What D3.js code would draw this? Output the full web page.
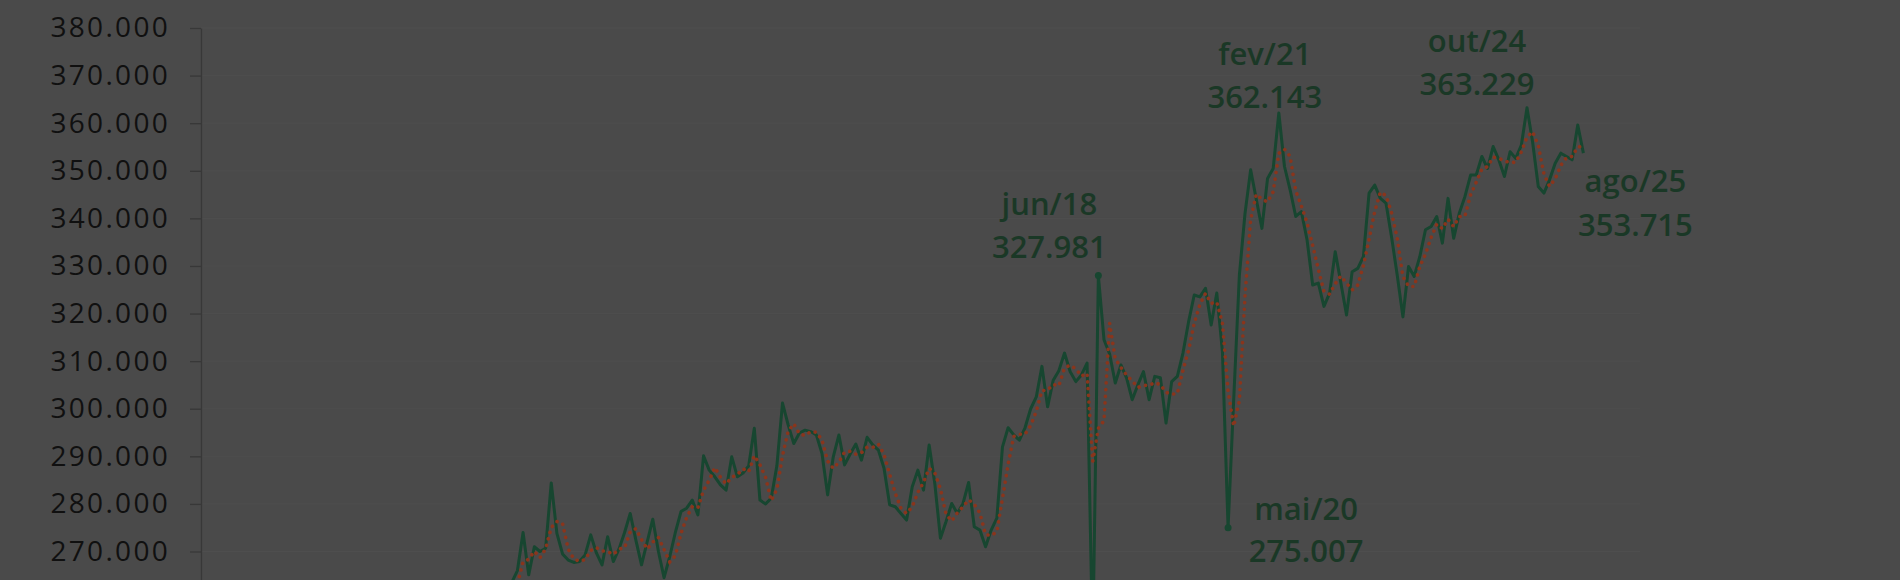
<!DOCTYPE html>
<html><head>
<meta charset="utf-8">
<title>serie mensal</title>
<script src="https://cdn.jsdelivr.net/npm/d3@7/dist/d3.min.js"></script>
<style>
  html, body { margin: 0; padding: 0; background: #4a4a4a; overflow: hidden; }
  svg { display: block; font-family: "Open Sans", sans-serif; }

  .y-axis path, .y-axis line { stroke: #383838; stroke-width: 1.3; }
  .y-axis text { fill: #101010; font-size: 28px; letter-spacing: 2.3px; font-family: "Open Sans", sans-serif; }

  .grid line { stroke: #4e4e4e; stroke-width: 1; }

  .serie { fill: none; stroke: #174630; stroke-width: 3; stroke-linejoin: round; }
  .media { fill: none; stroke: #8a351c; stroke-width: 3.6; stroke-dasharray: 0.1 6.6; stroke-linecap: round; }

  .rotulo { fill: #1a3826; font-size: 31px; font-weight: 600; text-anchor: middle; }
  .marca { fill: #174630; }
</style>
</head>
<body>
<svg id="chart" width="1900" height="580"></svg>

<script type="text/javascript">

// months (pt-BR) and first year of the series
var monthNames = ["jan","fev","mar","abr","mai","jun","jul","ago","set","out","nov","dez"]
var startYear = 2005

// monthly values, in thousands (2005-2009 sit below the visible area)
var serie = [
  228, 226, 231, 229, 233, 230, 232, 235, 231, 234, 236, 233,                          // 2005
  235, 232, 238, 236, 240, 237, 239, 242, 238, 241, 243, 240,                          // 2006
  242, 239, 245, 243, 247, 244, 246, 249, 245, 248, 250, 247,                          // 2007
  249, 252, 250, 254, 251, 253, 256, 252, 249, 244, 238, 236,                          // 2008
  240, 242, 245, 247, 250, 252, 254, 257, 260, 263.5, 266, 274.0,                      // 2009
  265.1, 271.0, 270.0, 270.7, 284.4, 273.8, 269.5, 268.2, 267.7, 267.9, 269.3, 273.5,  // 2010
  269.7, 267.2, 273.1, 267.9, 270.5, 274.0, 278.0, 272.4, 267.2, 272.0, 276.8, 270.0,  // 2011
  264.5, 268.9, 274.0, 278.4, 279.1, 280.8, 277.7, 290.1, 287.1, 285.7, 284.0, 282.9,  // 2012
  289.9, 285.7, 286.5, 288.0, 295.9, 280.8, 280.0, 281.2, 288.0, 301.2, 296.6, 292.7,  // 2013
  294.9, 295.5, 295.2, 294.5, 290.6, 281.9, 289.9, 294.5, 288.2, 290.5, 292.6, 289.2,  // 2014
  294.0, 292.4, 291.3, 287.5, 279.8, 279.4, 278.0, 276.6, 283.6, 287.1, 282.9, 292.4,  // 2015
  284.3, 272.8, 276.3, 280.1, 278.0, 280.1, 284.5, 275.2, 274.5, 271.0, 274.5, 277.0,  // 2016
  292.0, 296.0, 294.5, 293.4, 296.0, 300.0, 302.5, 308.9, 300.4, 306.0, 308.0, 311.7,  // 2017
  307.8, 305.7, 307.1, 309.6, 250.0, 327.981, 314.5, 311.5, 305.4, 309.2, 306.5, 301.9, // 2018
  305.0, 307.8, 301.9, 306.8, 306.5, 297.0, 305.7, 306.8, 311.7, 318.3, 323.9, 323.5,  // 2019
  325.3, 317.6, 324.3, 312.0, 275.007, 302.0, 328.0, 341.0, 350.2, 344.0, 337.9, 348.4, // 2020
  350.5, 362.143, 350.9, 346.0, 340.4, 341.4, 335.5, 326.0, 326.4, 321.5, 324.3, 333.0, // 2021
  326.4, 319.7, 328.8, 329.5, 332.0, 345.3, 347.0, 344.2, 343.2, 336.0, 328.0, 319.3,  // 2022
  329.9, 327.8, 332.0, 337.6, 338.3, 340.4, 334.8, 344.2, 335.8, 341.1, 344.6, 349.1,  // 2023
  349.1, 353.0, 350.5, 355.1, 352.3, 348.8, 354.0, 352.6, 355.4, 363.229, 356.0, 346.7, // 2024
  345.3, 348.1, 351.6, 353.7, 353.0, 352.3, 359.6, 353.715                             // 2025
]

// only the ticks that fall inside the picture
var yTicks = [270, 280, 290, 300, 310, 320, 330, 340, 350, 360, 370, 380]

// labelled months, and the ones that carry a marker
var destaques = ["jun/18", "mai/20", "fev/21", "out/24", "ago/25"]
var marcados = ["jun/18", "mai/20"]

// label offsets from the point: [dx, baseline line 1, baseline line 2]
var rotuloPos = {
  "jun/18": [-49, -61, -18],
  "mai/20": [78, -8, 34],
  "fev/21": [-14, -48, -5],
  "out/24": [-50, -56, -13],
  "ago/25": [52, 39, 83]
}

var mmPeriodo = 3   // moving-average trendline period (as in the Excel chart)

var categories = serie.map(function(d, i) {
  var y = startYear + Math.floor(i / 12)
  return monthNames[i % 12] + "/" + String(y).slice(2)
})

var ptBR = d3.formatLocale({ decimal: ",", thousands: ".", grouping: [3], currency: ["R$", ""] })
var fmt = ptBR.format(",.0f")

var svg = d3.select("#chart")

var xScale = d3.scalePoint()
  .domain(categories)
  .range([190.3, 1583.4])

// plot runs on below the picture's bottom edge
var yScale = d3.scaleLinear()
  .domain([250, 380])
  .range([646.7, 28])

var axisX = 201

// clip so nothing is drawn left of the value axis
svg.append("clipPath").attr("id", "plot-clip")
  .append("rect")
  .attr("x", axisX).attr("y", 0)
  .attr("width", 1900 - axisX).attr("height", 580)

// faint horizontal gridlines
var grid = svg.append("g").classed("grid", true)
grid.selectAll("line")
  .data(yTicks)
  .enter().append("line")
  .attr("x1", axisX).attr("x2", 1640)
  .attr("y1", function(d) { return yScale(d) })
  .attr("y2", function(d) { return yScale(d) })

var yAxis = d3.axisLeft(yScale)
  .tickValues(yTicks)
  .tickSize(11)
  .tickSizeOuter(0)
  .tickPadding(20)
  .tickFormat(function(d) { return fmt(d * 1000) })

svg.append("g")
  .classed("y-axis", true)
  .attr("transform", "translate(" + axisX + ",0)")
  .call(yAxis)

var pontos = serie.map(function(v, i) { return { cat: categories[i], v: v } })

// trailing moving average, drawn like Excel's trendline (starts at the 3rd point)
var media = []
for (var i = mmPeriodo - 1; i < serie.length; i++) {
  var soma = 0
  for (var k = 0; k < mmPeriodo; k++) soma += serie[i - k]
  media.push({ cat: categories[i], v: soma / mmPeriodo })
}

var linha = d3.line()
  .x(function(d) { return xScale(d.cat) })
  .y(function(d) { return yScale(d.v) })

var plot = svg.append("g").attr("clip-path", "url(#plot-clip)")

plot.append("path")
  .classed("serie", true)
  .attr("d", linha(pontos))

plot.append("path")
  .classed("media", true)
  .attr("d", linha(media))

plot.selectAll("circle.marca")
  .data(pontos.filter(function(d) { return marcados.indexOf(d.cat) >= 0 }))
  .enter().append("circle")
  .classed("marca", true)
  .attr("cx", function(d) { return xScale(d.cat) })
  .attr("cy", function(d) { return yScale(d.v) })
  .attr("r", 3.5)

// data labels: month on top, value below
var rotulos = svg.append("g")
pontos.filter(function(d) { return destaques.indexOf(d.cat) >= 0 }).forEach(function(d) {
  var p = rotuloPos[d.cat]
  var cx = xScale(d.cat) + p[0]
  var cy = yScale(d.v)
  rotulos.append("text").classed("rotulo", true)
    .attr("x", cx).attr("y", cy + p[1])
    .text(d.cat)
  rotulos.append("text").classed("rotulo", true)
    .attr("x", cx).attr("y", cy + p[2])
    .text(fmt(d.v * 1000))
})

</script>
</body>
</html>
